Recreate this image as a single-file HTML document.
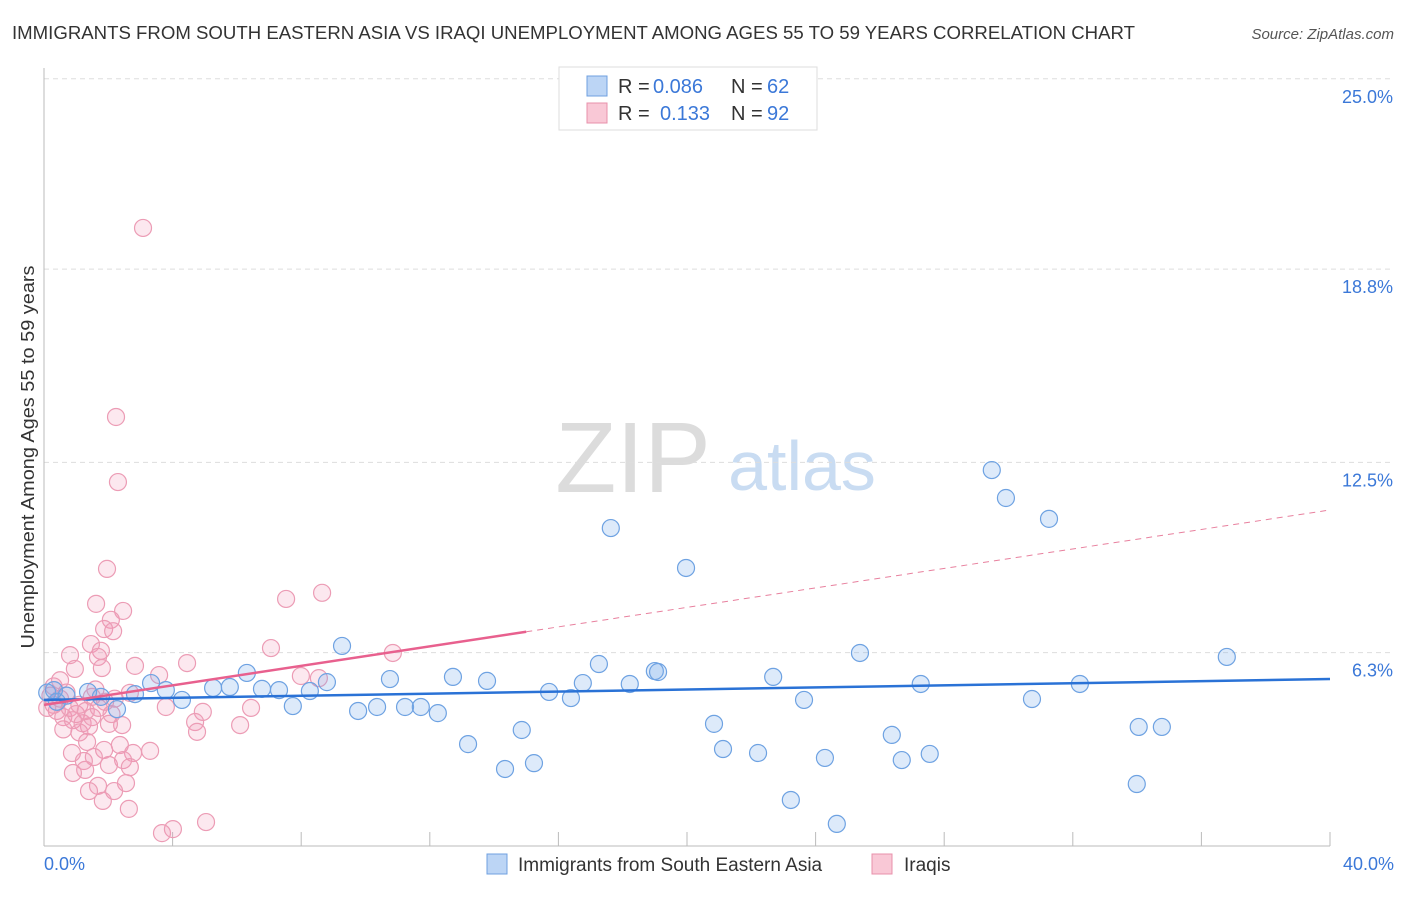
<!DOCTYPE html>
<html><head><meta charset="utf-8"><style>
body{margin:0;background:#fff;font-family:"Liberation Sans",sans-serif;}
svg text{font-family:"Liberation Sans",sans-serif;}
</style></head><body>
<svg id="chart" width="1406" height="892">
<text x="12" y="39" font-size="18" fill="#333" textLength="1123" lengthAdjust="spacingAndGlyphs">IMMIGRANTS FROM SOUTH EASTERN ASIA VS IRAQI UNEMPLOYMENT AMONG AGES 55 TO 59 YEARS CORRELATION CHART</text>
<text x="1394" y="39" font-size="15" fill="#555" font-style="italic" text-anchor="end">Source: ZipAtlas.com</text>
<g><text x="633" y="492" font-size="100" fill="#dcdcdc" font-family="Liberation Serif,serif" text-anchor="middle">ZIP</text><text x="802" y="490" font-size="70" fill="#c9dcf2" text-anchor="middle">atlas</text></g>
<g id="grid"></g>
<line x1="44" y1="68" x2="44" y2="846" stroke="#bbb"/>
<line x1="44" y1="846" x2="1330" y2="846" stroke="#bbb"/>
<text transform="translate(34,457) rotate(-90)" font-size="18" fill="#333" text-anchor="middle" textLength="383" lengthAdjust="spacingAndGlyphs">Unemployment Among Ages 55 to 59 years</text>
<text x="44" y="870" font-size="18" fill="#3b78d8">0.0%</text>
<text x="1394" y="870" font-size="18" fill="#3b78d8" text-anchor="end">40.0%</text>
<g id="pts"></g>
<g id="trends"></g>
<g>
<rect x="559" y="67" width="258" height="63" fill="#fff" stroke="#ddd"/>
<rect x="587" y="76" width="20" height="20" fill="#bcd5f5" stroke="#6fa0e0"/>
<rect x="587" y="103" width="20" height="20" fill="#f9c8d6" stroke="#e890ab"/>
<g font-size="20" fill="#333"><text x="618" y="93">R =</text><text x="653" y="93" fill="#3b78d8">0.086</text><text x="731" y="93">N =</text><text x="767" y="93" fill="#3b78d8">62</text></g>
<g font-size="20" fill="#333"><text x="618" y="120">R =</text><text x="660" y="120" fill="#3b78d8">0.133</text><text x="731" y="120">N =</text><text x="767" y="120" fill="#3b78d8">92</text></g>
</g>
<g>
<rect x="487" y="854" width="20" height="20" fill="#bcd5f5" stroke="#6fa0e0"/>
<text x="518" y="871" font-size="19" fill="#333">Immigrants from South Eastern Asia</text>
<rect x="872" y="854" width="20" height="20" fill="#f9c8d6" stroke="#e890ab"/>
<text x="904" y="871" font-size="19" fill="#333">Iraqis</text>
</g>
</svg>
<script>
const yTicks=[6.3,12.5,18.8,25.0];
const xTicks=[0,4,8,12,16,20,24,28,32,36,40];
const blueX=[0.1,0.4,0.7,0.31,1.37,1.77,2.27,2.83,3.33,3.79,4.29,5.26,5.78,6.31,6.78,7.31,7.74,8.27,8.80,9.27,9.77,10.36,10.76,11.23,11.72,12.25,12.72,13.19,13.78,14.34,14.86,15.24,15.71,16.39,16.76,17.26,17.63,18.22,19.0,19.1,19.97,20.84,21.12,22.21,22.68,23.23,23.64,24.29,24.66,25.38,26.37,26.68,27.27,27.55,29.48,29.92,31.26,30.73,32.22,33.99,34.05,34.77,36.79];
const blueY=[5.0,4.7,4.9,5.08,5.02,4.86,4.46,4.95,5.31,5.08,4.76,5.15,5.18,5.64,5.12,5.08,4.56,5.05,5.34,6.52,4.40,4.53,5.44,4.53,4.53,4.33,5.51,3.32,5.38,2.51,3.78,2.70,5.02,4.82,5.31,5.93,10.36,5.28,5.70,5.67,9.06,3.98,3.16,3.03,5.51,1.50,4.76,2.87,0.72,6.29,3.62,2.80,5.28,3.00,12.25,11.34,10.66,4.79,5.28,2.02,3.88,3.88,6.16];
const pinkX=[1.96,1.62,2.46,2.08,1.87,2.15,1.46,1.77,0.81,1.68,1.80,0.96,2.83,7.53,8.65,7.06,10.85,4.45,3.58,7.99,8.55,2.67,1.49,3.79,4.94,6.44,4.70,4.76,6.10,2.43,2.02,1.34,0.87,2.36,1.87,3.30,2.77,1.55,2.46,2.02,1.24,2.67,1.28,0.90,2.55,1.68,2.18,1.40,1.83,2.64,5.04,4.01,3.67,2.24,2.30,3.08,0.2,0.3,0.4,0.5,0.6,0.7,0.8,0.9,1.0,1.1,1.2,1.3,0.3,0.5,1.5,1.7,1.9,2.1,0.1,0.6,1.1,1.4,2.2,1.6];
const pinkY=[9.03,7.89,7.66,7.37,7.07,7.0,6.58,6.36,6.22,6.16,5.80,5.77,5.87,8.05,8.25,6.45,6.29,5.96,5.57,5.54,5.47,4.99,4.86,4.53,4.37,4.50,4.04,3.72,3.94,3.94,3.98,3.39,3.03,3.29,3.13,3.10,3.03,2.90,2.80,2.64,2.77,2.57,2.48,2.38,2.05,1.96,1.79,1.79,1.47,1.21,0.78,0.55,0.42,13.98,11.86,20.14,4.9,4.6,4.4,4.8,4.2,5.0,4.5,4.1,4.3,4.6,4.0,4.4,5.2,5.4,4.2,4.5,4.7,4.3,4.5,3.8,3.7,3.9,4.8,5.1];
const blueTrend=[4.76,5.44];
const pinkTrend=[4.6,10.95];
const pinkSolidEnd=15.0;
const NS='http://www.w3.org/2000/svg';
const sx=v=>44+v/40*1286;
const sy=v=>846-v/6.25*191.8;
function mk(t,a){const e=document.createElementNS(NS,t);for(const k in a)e.setAttribute(k,a[k]);return e;}
const grid=document.getElementById('grid');
yTicks.forEach(t=>{
 const l=mk('line',{x1:44,x2:1394,y1:sy(t),y2:sy(t),stroke:'#ddd','stroke-dasharray':'5,4'});
 
 
 grid.appendChild(l);
 const tx=mk('text',{x:1393,y:sy(t)+24,'font-size':18,fill:'#3b78d8','text-anchor':'end'});
 tx.textContent=t.toFixed(1)+'%';
 
 
 grid.appendChild(tx);
});
xTicks.forEach(t=>{
 const l=mk('line',{x1:sx(t),x2:sx(t),y1:832,y2:846,stroke:'#bbb'});
 
 
 grid.appendChild(l);
});
const pts=document.getElementById('pts');
pinkX.forEach((x,i)=>{
 const c=mk('circle',{cx:sx(x),cy:sy(pinkY[i]),r:8.5,fill:'rgba(242,150,180,0.22)',stroke:'#ec9cb5','stroke-width':1.2});
 
 
 pts.appendChild(c);
});
blueX.forEach((x,i)=>{
 const c=mk('circle',{cx:sx(x),cy:sy(blueY[i]),r:8.5,fill:'rgba(120,170,235,0.25)',stroke:'#6ea2e2','stroke-width':1.2});
 
 
 pts.appendChild(c);
});
const tr=document.getElementById('trends');
const pAt=x=>pinkTrend[0]+(pinkTrend[1]-pinkTrend[0])*x/40;
const l1=mk('line',{x1:sx(0),y1:sy(blueTrend[0]),x2:sx(40),y2:sy(blueTrend[1]),stroke:'#2a72d6','stroke-width':2.5});


tr.appendChild(l1);
const l2=mk('line',{x1:sx(0),y1:sy(pAt(0)),x2:sx(pinkSolidEnd),y2:sy(pAt(pinkSolidEnd)),stroke:'#e8608e','stroke-width':2.5});


tr.appendChild(l2);
const l3=mk('line',{x1:sx(pinkSolidEnd),y1:sy(pAt(pinkSolidEnd)),x2:sx(40),y2:sy(pAt(40)),stroke:'#e8809e','stroke-width':1,'stroke-dasharray':'6,5'});


tr.appendChild(l3);
</script>
</body></html>
